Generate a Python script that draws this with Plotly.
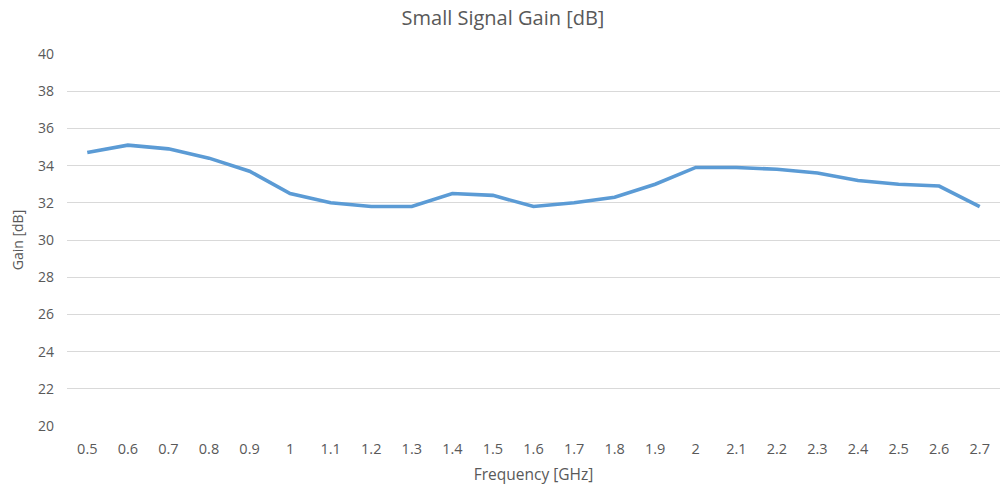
import plotly.graph_objects as go

freq_labels = ["0.5", "0.6", "0.7", "0.8", "0.9", "1", "1.1", "1.2", "1.3", "1.4", "1.5", "1.6",
               "1.7", "1.8", "1.9", "2", "2.1", "2.2", "2.3", "2.4", "2.5", "2.6", "2.7"]
gain_db = [34.7, 35.1, 34.9, 34.4, 33.7, 32.5, 32.0, 31.8, 31.8, 32.5, 32.4, 31.8,
           32.0, 32.3, 33.0, 33.9, 33.9, 33.8, 33.6, 33.2, 33.0, 32.9, 31.8]
y_ticks = list(range(20, 41, 2))

fig = go.Figure()
fig.add_trace(go.Scatter(
    x=freq_labels, y=gain_db, mode="lines",
    line=dict(color="#5B9BD5", width=3.6),
    showlegend=False,
))

fig.update_layout(
    width=1006, height=489,
    margin=dict(l=67, r=6, t=54, b=63),
    paper_bgcolor="white", plot_bgcolor="white",
    font=dict(family="Open Sans, sans-serif", color="#595959", size=14),
    title=dict(text="Small Signal Gain [dB]", x=0.5, xanchor="center", y=0.963, yanchor="middle",
               font=dict(size=20, color="#595959")),
    xaxis=dict(
        type="category", range=[-0.5, len(freq_labels) - 0.5], automargin=False,
        showgrid=False, showline=False, zeroline=False, ticks="", ticklabelstandoff=12,
        tickfont=dict(size=14.5, color="#595959"),
        title=dict(text="Frequency [GHz]", font=dict(size=15.5, color="#595959"), standoff=12),
    ),
    yaxis=dict(
        range=[20, 40], tickvals=y_ticks, showgrid=True, gridcolor="#D9D9D9", gridwidth=1,
        zeroline=False, showline=False, ticks="", automargin=False, ticklabelstandoff=12,
        tickfont=dict(size=14, color="#595959"),
        title=dict(text="Gain [dB]", font=dict(size=14, color="#595959"), standoff=11),
    ),
)

fig.write_html("out.html", config={"displayModeBar": False},
               post_script="document.body.style.margin='0';")
